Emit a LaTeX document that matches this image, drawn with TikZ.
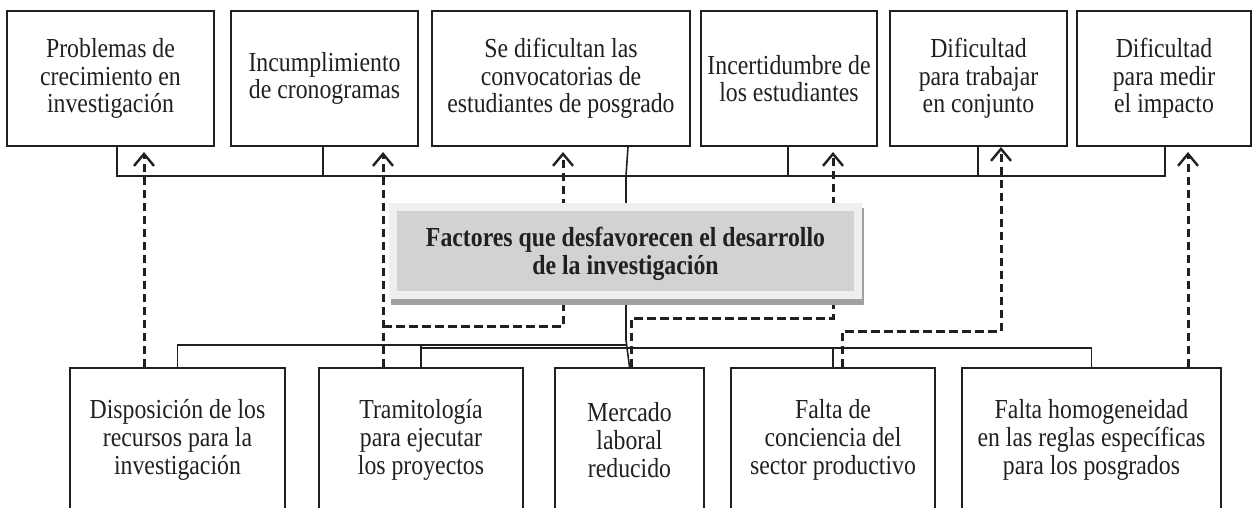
\documentclass[tikz,border=0pt]{standalone}
\usepackage{fontspec}
\setmainfont{Liberation Serif}[FakeStretch=0.865]
\usetikzlibrary{arrows.meta}
\definecolor{ink}{HTML}{231F20}
\definecolor{framegray}{HTML}{EEEFF1}
\definecolor{innergray}{HTML}{D1D2D4}
\definecolor{shadegray}{HTML}{A0A0A2}
\begin{document}
\begin{tikzpicture}[x=1pt,y=-1pt,
  box/.style={draw=ink, line width=2pt, align=center, inner sep=0pt,
    font=\fontsize{27.5}{27.7}\selectfont, text=ink},
  topbox/.style={box, minimum height=135pt, execute at begin node={\rule{0pt}{27pt}}},
  botbox/.style={box, minimum height=144pt},
  bus/.style={draw=ink, line width=1.6pt},
  dasharrow/.style={draw=ink, line width=3pt, dash pattern=on 8.5pt off 4.5pt,
    -{Straight Barb[length=12pt,width=20pt,line width=2.4pt]}}]
\useasboundingbox (0,0) rectangle (1253,507);
\clip (0,0) rectangle (1253,507);

% top boxes
\node[topbox, minimum width=207pt] (t1) at (110.5,78.5) {Problemas de\\crecimiento en\\investigación};
\node[topbox, minimum width=187pt] (t2) at (324.5,78.5) {Incumplimiento\\de cronogramas};
\node[topbox, minimum width=258pt] (t3) at (561,78.5) {Se dificultan las\\convocatorias de\\estudiantes de posgrado};
\node[topbox, minimum width=176pt] (t4) at (789,78.5) {Incertidumbre de\\los estudiantes};
\node[topbox, minimum width=177pt] (t5) at (978.5,78.5) {Dificultad\\para trabajar\\en conjunto};
\node[topbox, minimum width=174pt] (t6) at (1164,78.5) {Dificultad\\para medir\\el impacto};

% bottom boxes
\node[botbox, minimum width=215pt] (b1) at (177.5,440) {Disposición de los\\recursos para la\\investigación};
\node[botbox, minimum width=204pt] (b2) at (421,440) {Tramitología\\para ejecutar\\los proyectos};
\node[botbox, minimum width=149pt] (b3) at (629.5,440) {Mercado\\laboral\\reducido};
\node[botbox, minimum width=204pt] (b4) at (833,440) {Falta de\\conciencia del\\sector productivo};
\node[botbox, minimum width=259pt] (b5) at (1091.5,440) {Falta homogeneidad\\en las reglas específicas\\para los posgrados};

% top bus
\coordinate (k1) at (117,176);
\coordinate (k2) at (323,176);
\coordinate (k3) at (626,176);
\coordinate (k4) at (788,176);
\coordinate (k5) at (978,176);
\coordinate (k6) at (1165,176);
\coordinate (kc) at (626,250);
\draw[bus] (t1.south -| k1) -- (k1) -- (k6) -- (t6.south -| k6);
\draw[bus] (t2.south -| k2) -- (k2);
\draw[bus] (t4.south -| k4) -- (k4);
\draw[bus] (t5.south -| k5) -- (k5);
\draw[bus] ([xshift=67pt]t3.south) -- (k3);

% bottom bus
\coordinate (m1) at (177.5,345);
\coordinate (mc) at (626,345);
\coordinate (m2) at (421,348);
\coordinate (m5) at (1091.5,348);
\coordinate (mk) at (626,340);
\draw[bus] (b1.north) -- (m1) -- (mc);
\draw[bus] (b2.north) -- (b2.north |- m1);
\draw[bus] (m2) -- (m5) -- (b5.north);
\draw[bus] (b4.north) -- (b4.north |- m5);
\draw[bus] (k3) -- (kc) -- (mk) -- (b3.north);

% dashed arrows
\coordinate (a1) at (144,152);
\coordinate (a2) at (383,152);
\coordinate (a3) at (563,152);
\coordinate (a4) at (833,152);
\coordinate (a5) at (1001,147);
\coordinate (a6) at (1188,152);
\coordinate (j3) at (383,326);
\coordinate (j4) at (631,318);
\coordinate (j5) at (842,331);
\draw[dasharrow] (b1.north -| a1) -- (a1);
\draw[dasharrow] (b2.north -| a2) -- (a2);
\draw[dasharrow] (j3) -| (a3);
\draw[dasharrow] (b3.north -| j4) -- (j4) -| (a4);
\draw[dasharrow] (b4.north -| j5) -- (j5) -| (a5);
\draw[dasharrow] (b5.north -| a6) -- (a6);

% central box (drawn over the connectors it hides)
\fill[shadegray] (391,208) rectangle (864,305);
\node[fill=innergray, draw=framegray, line width=8pt, minimum width=465pt,
      minimum height=88pt, inner sep=0pt] (c) at (625.25,251.25) {};
\node[font=\bfseries\fontsize{27.5}{27.7}\selectfont, align=center, text=ink]
      (ct) at (625.5,254) {Factores que desfavorecen el desarrollo\\de la investigación};
\end{tikzpicture}
\end{document}
